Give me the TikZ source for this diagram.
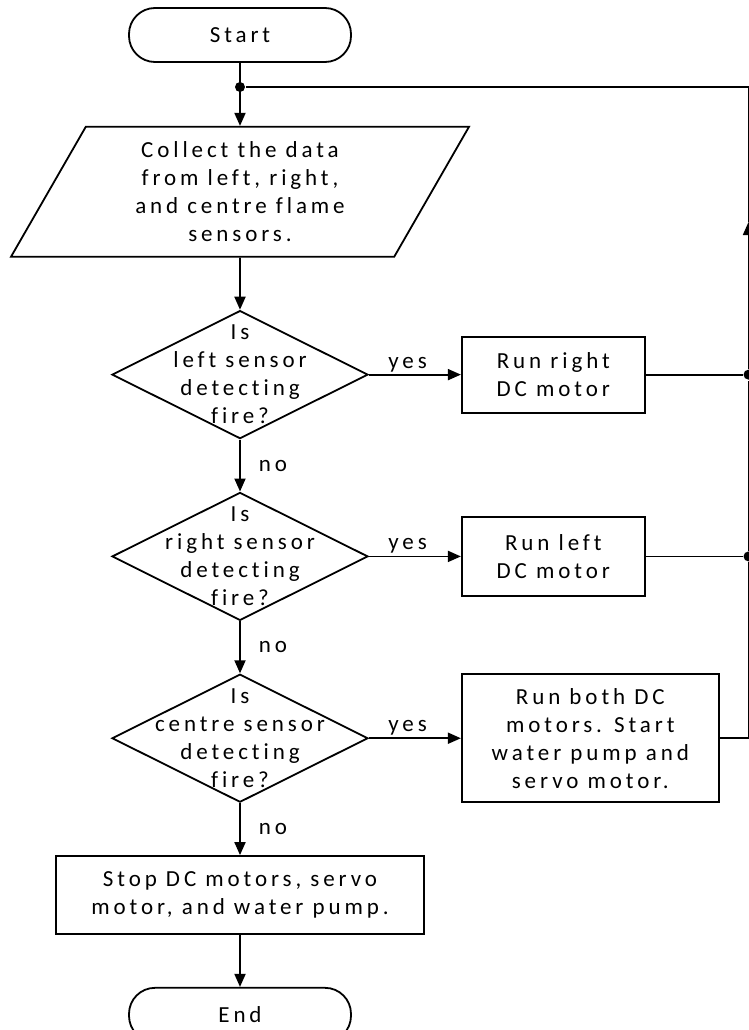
\documentclass[tikz,border=0pt]{standalone}
\usepackage{fontspec}
\setmainfont{Carlito}[LetterSpace=17.0, Ligatures=NoCommon]
\usepackage{tikz}
\usetikzlibrary{arrows.meta}
\usetikzlibrary{calc}
\usetikzlibrary{positioning}
\usetikzlibrary{shapes.geometric}

\begin{document}
\begin{tikzpicture}[x=1pt, y=-1pt, line width=1.8pt, node distance=52pt,
    >={Triangle[length=13pt,width=11pt]}, font=\fontsize{23}{28}\selectfont]
    \tikzstyle{term}=[draw, rounded corners=26pt, minimum width=222pt, minimum height=54pt]
    \tikzstyle{io}=[draw, trapezium, trapezium left angle=55, trapezium right angle=125,
        trapezium stretches body, minimum width=458pt, minimum height=130pt, align=center]
    \tikzstyle{decision}=[draw, diamond, minimum width=256pt, minimum height=128pt, inner sep=0pt]
    \tikzstyle{process}=[draw, rectangle, align=center]
    \tikzstyle{dot}=[circle, fill=black, inner sep=0pt, minimum size=10pt]
    \tikzstyle{lbl}=[inner sep=2pt]
        \useasboundingbox (0,0) rectangle (748,1030);
        % main column
        \node[term] (start) at (240,35) {Start};
        \node[io] (collect) [below=63pt of start] {Collect the data\\from left, right,\\and centre flame\\sensors.};
        \node[decision, label={[align=center]center:Is\\left sensor\\detecting\\fire?}] (left) [below=of collect] {};
        \node[decision, label={[align=center]center:Is\\right sensor\\detecting\\fire?}] (right) [below=of left] {};
        \node[decision, label={[align=center]center:Is\\centre sensor\\detecting\\fire?}] (centre) [below=of right] {};
        \node[process, minimum width=368pt, minimum height=78pt] (stop) [below=of centre] {Stop DC motors, servo\\motor, and water pump.};
        \node[term] (end) [below=of stop] {End};
        % actions
        \node[process, minimum width=183pt, minimum height=76pt] (runright) [right=92pt of left] {Run right\\DC motor};
        \node[process, minimum width=183pt, minimum height=79pt] (runleft) [right=92pt of right] {Run left\\DC motor};
        \node[process, minimum width=257pt, minimum height=128pt] (runboth) [right=92pt of centre] {Run both DC\\motors. Start\\water pump and\\servo motor.};
        % feedback loop
        \coordinate (loop) at (748.5,87);
        \coordinate (tip) at (748.5,222);
        \coordinate (j3) at (runboth.east -| loop);
        \node[dot] (split) at (start.south |- loop) {};
        \node[dot] (j1) at (runright.east -| loop) {};
        \node[dot] (j2) at (runleft.east -| loop) {};

        \draw[->] (start) -- (collect);
        \draw[->] (collect) -- (left);
        \draw[->] (left) -- node[lbl, right=16pt] {no} (right);
        \draw[->] (right) -- node[lbl, right=16pt] {no} (centre);
        \draw[->] (centre) -- node[lbl, right=16pt] {no} (stop);
        \draw[->] (stop) -- (end);
        \draw[->] (left) -- node[lbl, above, pos=0.42] {yes} (runright);
        \draw[->] (right) -- node[lbl, above, pos=0.42] {yes} (runleft);
        \draw[->] (centre) -- node[lbl, above, pos=0.42] {yes} (runboth);
        \draw (runright) -- (j1);
        \draw (runleft) -- (j2);
        \draw (runboth) -- (j3) -- (j2) -- (j1);
        \draw[->] (j1) -- (tip);
        \draw (tip) -- (loop) -- (split);
\end{tikzpicture}
\end{document}
